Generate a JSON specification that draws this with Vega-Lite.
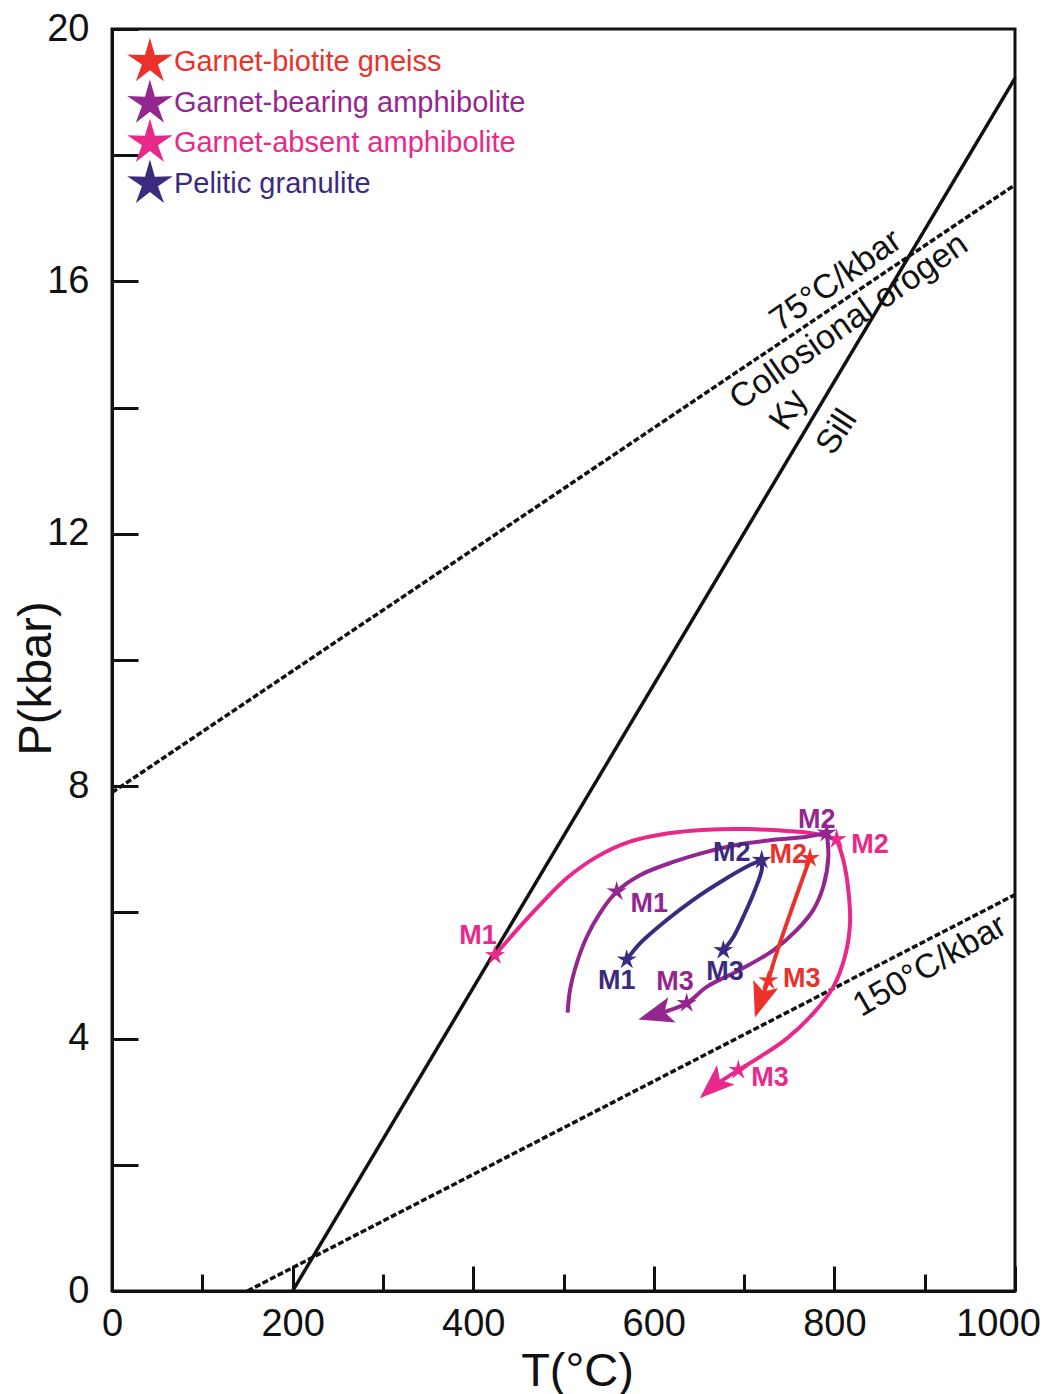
{
  "$schema": "https://vega.github.io/schema/vega-lite/v6.json",
  "width": 903,
  "height": 1262,
  "autosize": {"type": "none"},
  "padding": {"left": 112, "top": 29, "right": 33, "bottom": 103},
  "background": "white",
  "config": {
    "view": {"stroke": "#111", "strokeWidth": 3},
    "font": "Liberation Sans",
    "axis": {
      "grid": false, "domainColor": "#111", "domainWidth": 3, "tickColor": "#111", "tickWidth": 3,
      "labelColor": "#111", "titleColor": "#111", "labelFont": "Liberation Sans", "titleFont": "Liberation Sans",
      "titleFontWeight": "normal", "labelFlush": false, "labelOverlap": false
    }
  },
  "datasets": {
    "refLines": [
      {"line": "Ky-Sill", "T": 200, "P": 0}, {"line": "Ky-Sill", "T": 1000, "P": 19.22},
      {"line": "75", "T": 0, "P": 7.9}, {"line": "75", "T": 1000, "P": 17.53},
      {"line": "150", "T": 150, "P": 0}, {"line": "150", "T": 1000, "P": 6.28}
    ],
    "annotations": [
      {"text": "75°C/kbar", "T": 801.8, "P": 16.01},
      {"text": "Collosional orogen", "T": 816.2, "P": 15.36},
      {"text": "Ky", "T": 749.7, "P": 13.96},
      {"text": "Sill", "T": 802.9, "P": 13.61},
      {"text": "150°C/kbar", "T": 905.9, "P": 5.15}
    ],
    "paths": [
      {"sample": "Garnet-absent amphibolite", "leg": "M1-M2", "i": 1, "T": 424.1, "P": 5.32},
      {"sample": "Garnet-absent amphibolite", "leg": "M1-M2", "i": 2, "T": 448.2, "P": 5.72},
      {"sample": "Garnet-absent amphibolite", "leg": "M1-M2", "i": 3, "T": 474.0, "P": 6.12},
      {"sample": "Garnet-absent amphibolite", "leg": "M1-M2", "i": 4, "T": 503.5, "P": 6.54},
      {"sample": "Garnet-absent amphibolite", "leg": "M1-M2", "i": 5, "T": 536.8, "P": 6.88},
      {"sample": "Garnet-absent amphibolite", "leg": "M1-M2", "i": 6, "T": 573.6, "P": 7.12},
      {"sample": "Garnet-absent amphibolite", "leg": "M1-M2", "i": 7, "T": 614.3, "P": 7.25},
      {"sample": "Garnet-absent amphibolite", "leg": "M1-M2", "i": 8, "T": 658.6, "P": 7.31},
      {"sample": "Garnet-absent amphibolite", "leg": "M1-M2", "i": 9, "T": 702.9, "P": 7.32},
      {"sample": "Garnet-absent amphibolite", "leg": "M1-M2", "i": 10, "T": 747.2, "P": 7.29},
      {"sample": "Garnet-absent amphibolite", "leg": "M1-M2", "i": 11, "T": 776.6, "P": 7.25},
      {"sample": "Garnet-absent amphibolite", "leg": "M1-M2", "i": 12, "T": 802.5, "P": 7.16},
      {"sample": "Garnet-absent amphibolite", "leg": "M2-M3", "i": 13, "T": 802.5, "P": 7.16},
      {"sample": "Garnet-absent amphibolite", "leg": "M2-M3", "i": 14, "T": 809.9, "P": 6.83},
      {"sample": "Garnet-absent amphibolite", "leg": "M2-M3", "i": 15, "T": 815.4, "P": 6.36},
      {"sample": "Garnet-absent amphibolite", "leg": "M2-M3", "i": 16, "T": 817.3, "P": 5.83},
      {"sample": "Garnet-absent amphibolite", "leg": "M2-M3", "i": 17, "T": 811.7, "P": 5.30},
      {"sample": "Garnet-absent amphibolite", "leg": "M2-M3", "i": 18, "T": 798.8, "P": 4.82},
      {"sample": "Garnet-absent amphibolite", "leg": "M2-M3", "i": 19, "T": 776.6, "P": 4.40},
      {"sample": "Garnet-absent amphibolite", "leg": "M2-M3", "i": 20, "T": 747.2, "P": 4.00},
      {"sample": "Garnet-absent amphibolite", "leg": "M2-M3", "i": 21, "T": 717.6, "P": 3.71},
      {"sample": "Garnet-absent amphibolite", "leg": "M2-M3", "i": 22, "T": 693.6, "P": 3.50},
      {"sample": "Garnet-absent amphibolite", "leg": "M2-M3", "i": 23, "T": 665.3, "P": 3.24},

      {"sample": "Garnet-bearing amphibolite", "leg": "M1-M2", "i": 1, "T": 504.6, "P": 4.41},
      {"sample": "Garnet-bearing amphibolite", "leg": "M1-M2", "i": 2, "T": 507.2, "P": 4.77},
      {"sample": "Garnet-bearing amphibolite", "leg": "M1-M2", "i": 3, "T": 514.6, "P": 5.19},
      {"sample": "Garnet-bearing amphibolite", "leg": "M1-M2", "i": 4, "T": 525.7, "P": 5.61},
      {"sample": "Garnet-bearing amphibolite", "leg": "M1-M2", "i": 5, "T": 540.4, "P": 5.99},
      {"sample": "Garnet-bearing amphibolite", "leg": "M1-M2", "i": 6, "T": 558.9, "P": 6.33},
      {"sample": "Garnet-bearing amphibolite", "leg": "M1-M2", "i": 7, "T": 584.7, "P": 6.59},
      {"sample": "Garnet-bearing amphibolite", "leg": "M1-M2", "i": 8, "T": 621.6, "P": 6.80},
      {"sample": "Garnet-bearing amphibolite", "leg": "M1-M2", "i": 9, "T": 658.6, "P": 6.96},
      {"sample": "Garnet-bearing amphibolite", "leg": "M1-M2", "i": 10, "T": 695.5, "P": 7.08},
      {"sample": "Garnet-bearing amphibolite", "leg": "M1-M2", "i": 11, "T": 732.3, "P": 7.15},
      {"sample": "Garnet-bearing amphibolite", "leg": "M1-M2", "i": 12, "T": 769.3, "P": 7.20},
      {"sample": "Garnet-bearing amphibolite", "leg": "M1-M2", "i": 13, "T": 791.4, "P": 7.26},
      {"sample": "Garnet-bearing amphibolite", "leg": "M2-M3", "i": 14, "T": 791.4, "P": 7.26},
      {"sample": "Garnet-bearing amphibolite", "leg": "M2-M3", "i": 15, "T": 793.3, "P": 6.88},
      {"sample": "Garnet-bearing amphibolite", "leg": "M2-M3", "i": 16, "T": 787.7, "P": 6.41},
      {"sample": "Garnet-bearing amphibolite", "leg": "M2-M3", "i": 17, "T": 776.6, "P": 6.04},
      {"sample": "Garnet-bearing amphibolite", "leg": "M2-M3", "i": 18, "T": 758.2, "P": 5.72},
      {"sample": "Garnet-bearing amphibolite", "leg": "M2-M3", "i": 19, "T": 732.3, "P": 5.40},
      {"sample": "Garnet-bearing amphibolite", "leg": "M2-M3", "i": 20, "T": 695.5, "P": 5.09},
      {"sample": "Garnet-bearing amphibolite", "leg": "M2-M3", "i": 21, "T": 658.6, "P": 4.82},
      {"sample": "Garnet-bearing amphibolite", "leg": "M2-M3", "i": 22, "T": 636.4, "P": 4.56},
      {"sample": "Garnet-bearing amphibolite", "leg": "M2-M3", "i": 23, "T": 601.5, "P": 4.38},

      {"sample": "Pelitic granulite", "leg": "M1-M2", "i": 1, "T": 570.0, "P": 5.25},
      {"sample": "Pelitic granulite", "leg": "M1-M2", "i": 2, "T": 584.7, "P": 5.51},
      {"sample": "Pelitic granulite", "leg": "M1-M2", "i": 3, "T": 614.3, "P": 5.88},
      {"sample": "Pelitic granulite", "leg": "M1-M2", "i": 4, "T": 643.7, "P": 6.20},
      {"sample": "Pelitic granulite", "leg": "M1-M2", "i": 5, "T": 677.0, "P": 6.51},
      {"sample": "Pelitic granulite", "leg": "M1-M2", "i": 6, "T": 706.5, "P": 6.75},
      {"sample": "Pelitic granulite", "leg": "M1-M2", "i": 7, "T": 719.5, "P": 6.83},
      {"sample": "Pelitic granulite", "leg": "M2-M3", "i": 8, "T": 719.5, "P": 6.83},
      {"sample": "Pelitic granulite", "leg": "M2-M3", "i": 9, "T": 719.5, "P": 6.67},
      {"sample": "Pelitic granulite", "leg": "M2-M3", "i": 10, "T": 712.1, "P": 6.36},
      {"sample": "Pelitic granulite", "leg": "M2-M3", "i": 11, "T": 701.0, "P": 5.99},
      {"sample": "Pelitic granulite", "leg": "M2-M3", "i": 12, "T": 688.1, "P": 5.61},
      {"sample": "Pelitic granulite", "leg": "M2-M3", "i": 13, "T": 677.0, "P": 5.40},

      {"sample": "Garnet-biotite gneiss", "leg": "M2-M3", "i": 1, "T": 773.0, "P": 6.86},
      {"sample": "Garnet-biotite gneiss", "leg": "M2-M3", "i": 2, "T": 756.4, "P": 6.20},
      {"sample": "Garnet-biotite gneiss", "leg": "M2-M3", "i": 3, "T": 743.4, "P": 5.67},
      {"sample": "Garnet-biotite gneiss", "leg": "M2-M3", "i": 4, "T": 732.3, "P": 5.19},
      {"sample": "Garnet-biotite gneiss", "leg": "M2-M3", "i": 5, "T": 726.8, "P": 4.92},
      {"sample": "Garnet-biotite gneiss", "leg": "M2-M3", "i": 6, "T": 718.0, "P": 4.60}
    ],
    "arrows": [
      {"sample": "Garnet-absent amphibolite", "T": 665.3, "P": 3.24},
      {"sample": "Garnet-bearing amphibolite", "T": 601.5, "P": 4.38},
      {"sample": "Garnet-biotite gneiss", "T": 718.0, "P": 4.60}
    ],
    "stages": [
      {"sample": "Garnet-absent amphibolite", "stage": "M1", "T": 424.1, "P": 5.32},
      {"sample": "Garnet-absent amphibolite", "stage": "M2", "T": 802.5, "P": 7.16},
      {"sample": "Garnet-absent amphibolite", "stage": "M3", "T": 693.6, "P": 3.50},
      {"sample": "Garnet-bearing amphibolite", "stage": "M1", "T": 558.9, "P": 6.33},
      {"sample": "Garnet-bearing amphibolite", "stage": "M2", "T": 791.4, "P": 7.26},
      {"sample": "Garnet-bearing amphibolite", "stage": "M3", "T": 636.4, "P": 4.56},
      {"sample": "Pelitic granulite", "stage": "M1", "T": 570.0, "P": 5.25},
      {"sample": "Pelitic granulite", "stage": "M2", "T": 719.5, "P": 6.83},
      {"sample": "Pelitic granulite", "stage": "M3", "T": 677.0, "P": 5.40},
      {"sample": "Garnet-biotite gneiss", "stage": "M2", "T": 773.0, "P": 6.86},
      {"sample": "Garnet-biotite gneiss", "stage": "M3", "T": 726.8, "P": 4.92}
    ],
    "stageLabels": [
      {"sample": "Garnet-absent amphibolite", "stage": "M1", "T": 405.3, "P": 5.63},
      {"sample": "Garnet-absent amphibolite", "stage": "M2", "T": 839.4, "P": 7.07},
      {"sample": "Garnet-absent amphibolite", "stage": "M3", "T": 728.7, "P": 3.37},
      {"sample": "Garnet-bearing amphibolite", "stage": "M1", "T": 595.0, "P": 6.14},
      {"sample": "Garnet-bearing amphibolite", "stage": "M2", "T": 780.4, "P": 7.46},
      {"sample": "Garnet-bearing amphibolite", "stage": "M3", "T": 623.5, "P": 4.89},
      {"sample": "Pelitic granulite", "stage": "M1", "T": 558.9, "P": 4.92},
      {"sample": "Pelitic granulite", "stage": "M2", "T": 686.2, "P": 6.94},
      {"sample": "Pelitic granulite", "stage": "M3", "T": 678.8, "P": 5.06},
      {"sample": "Garnet-biotite gneiss", "stage": "M2", "T": 748.9, "P": 6.91},
      {"sample": "Garnet-biotite gneiss", "stage": "M3", "T": 763.8, "P": 4.94}
    ],
    "legendRows": [
      {"sample": "Garnet-biotite gneiss", "T": 42, "P": 19.48},
      {"sample": "Garnet-bearing amphibolite", "T": 42, "P": 18.82},
      {"sample": "Garnet-absent amphibolite", "T": 42, "P": 18.2},
      {"sample": "Pelitic granulite", "T": 42, "P": 17.55}
    ]
  },
  "encoding": {
    "x": {
      "field": "T", "type": "quantitative",
      "scale": {"domain": [0, 1000], "nice": false, "zero": false},
      "axis": {
        "title": "T(°C)",
        "format": "d",
        "values": [0, 100, 200, 300, 400, 500, 600, 700, 800, 900, 1000],
        "labelExpr": "datum.value % 200 === 0 ? datum.label : ''",
        "tickSize": {"condition": {"test": "datum.value % 200 === 0", "value": -25}, "value": -17},
        "labelPadding": 39,
        "labelOffset": {"condition": {"test": "datum.value === 1000", "value": -17}, "value": 0},
        "labelFontSize": 38,
        "titleFontSize": 47,
        "titleX": 465, "titleY": 94, "titleBaseline": "alphabetic", "titleAlign": "center"
      }
    },
    "y": {
      "field": "P", "type": "quantitative",
      "scale": {"domain": [0, 20], "nice": false, "zero": false},
      "axis": {
        "title": "P(kbar)",
        "format": "d",
        "values": [0, 2, 4, 6, 8, 10, 12, 14, 16, 18, 20],
        "labelExpr": "datum.value % 4 === 0 ? datum.label : ''",
        "tickSize": -26,
        "labelPadding": 49,
        "labelFontSize": 38,
        "titleFontSize": 47,
        "titleX": -62, "titleY": 649, "titleBaseline": "alphabetic", "titleAlign": "center", "titleAngle": -90
      }
    }
  },
  "layer": [
    {
      "data": {"name": "refLines"},
      "mark": {"type": "line", "color": "#111", "strokeWidth": 3.5},
      "encoding": {
        "detail": {"field": "line"},
        "strokeDash": {"field": "line", "type": "nominal", "scale": {"domain": ["Ky-Sill", "75", "150"], "range": [[1, 0], [6, 2.5], [6, 2.5]]}, "legend": null}
      }
    },
    {
      "data": {"name": "annotations"},
      "transform": [{"filter": {"field": "text", "oneOf": ["75°C/kbar", "Collosional orogen"]}}],
      "mark": {"type": "text", "angle": -35, "fontSize": 34, "color": "#111", "align": "center", "baseline": "middle"},
      "encoding": {"text": {"field": "text"}}
    },
    {
      "data": {"name": "annotations"},
      "transform": [{"filter": {"field": "text", "oneOf": ["Ky", "Sill"]}}],
      "mark": {"type": "text", "angle": -57, "fontSize": 34, "color": "#111", "align": "center", "baseline": "middle"},
      "encoding": {"text": {"field": "text"}}
    },
    {
      "data": {"name": "annotations"},
      "transform": [{"filter": {"field": "text", "oneOf": ["150°C/kbar"]}}],
      "mark": {"type": "text", "angle": -30, "fontSize": 34, "color": "#111", "align": "center", "baseline": "middle"},
      "encoding": {"text": {"field": "text"}}
    },
    {
      "data": {"name": "paths"},
      "mark": {"type": "line", "strokeWidth": 4, "interpolate": "catmull-rom"},
      "encoding": {
        "color": {"field": "sample", "type": "nominal", "scale": {"domain": ["Garnet-biotite gneiss", "Garnet-bearing amphibolite", "Garnet-absent amphibolite", "Pelitic granulite"], "range": ["#e8322b", "#93278f", "#e8288b", "#3b2a80"]}, "legend": null},
        "detail": {"field": "leg"},
        "order": {"field": "i", "type": "quantitative"}
      }
    },
    {
      "data": {"name": "arrows"},
      "transform": [{"filter": "datum.sample === 'Garnet-absent amphibolite'"}],
      "mark": {"type": "point", "shape": "M0,-1L0.75,1L0,0.55L-0.75,1Z", "size": 1225, "filled": true, "opacity": 1, "strokeWidth": 0, "angle": 228},
      "encoding": {"color": {"field": "sample", "type": "nominal", "scale": {"domain": ["Garnet-biotite gneiss", "Garnet-bearing amphibolite", "Garnet-absent amphibolite", "Pelitic granulite"], "range": ["#e8322b", "#93278f", "#e8288b", "#3b2a80"]}, "legend": null}}
    },
    {
      "data": {"name": "arrows"},
      "transform": [{"filter": "datum.sample === 'Garnet-bearing amphibolite'"}],
      "mark": {"type": "point", "shape": "M0,-1L0.75,1L0,0.55L-0.75,1Z", "size": 1225, "filled": true, "opacity": 1, "strokeWidth": 0, "angle": 254},
      "encoding": {"color": {"field": "sample", "type": "nominal", "scale": {"domain": ["Garnet-biotite gneiss", "Garnet-bearing amphibolite", "Garnet-absent amphibolite", "Pelitic granulite"], "range": ["#e8322b", "#93278f", "#e8288b", "#3b2a80"]}, "legend": null}}
    },
    {
      "data": {"name": "arrows"},
      "transform": [{"filter": "datum.sample === 'Garnet-biotite gneiss'"}],
      "mark": {"type": "point", "shape": "M0,-1L0.75,1L0,0.55L-0.75,1Z", "size": 1225, "filled": true, "opacity": 1, "strokeWidth": 0, "angle": 198},
      "encoding": {"color": {"field": "sample", "type": "nominal", "scale": {"domain": ["Garnet-biotite gneiss", "Garnet-bearing amphibolite", "Garnet-absent amphibolite", "Pelitic granulite"], "range": ["#e8322b", "#93278f", "#e8288b", "#3b2a80"]}, "legend": null}}
    },
    {
      "data": {"name": "stages"},
      "mark": {"type": "point", "shape": "M0,-1L0.206,-0.283L0.951,-0.309L0.333,0.108L0.588,0.809L0,0.35L-0.588,0.809L-0.333,0.108L-0.951,-0.309L-0.206,-0.283Z", "size": 450, "filled": true, "opacity": 1, "strokeWidth": 0},
      "encoding": {"color": {"field": "sample", "type": "nominal", "scale": {"domain": ["Garnet-biotite gneiss", "Garnet-bearing amphibolite", "Garnet-absent amphibolite", "Pelitic granulite"], "range": ["#e8322b", "#93278f", "#e8288b", "#3b2a80"]}, "legend": null}}
    },
    {
      "data": {"name": "stageLabels"},
      "mark": {"type": "text", "fontSize": 27, "fontWeight": "bold", "align": "center", "baseline": "middle"},
      "encoding": {
        "text": {"field": "stage"},
        "color": {"field": "sample", "type": "nominal", "scale": {"domain": ["Garnet-biotite gneiss", "Garnet-bearing amphibolite", "Garnet-absent amphibolite", "Pelitic granulite"], "range": ["#e8322b", "#93278f", "#e8288b", "#3b2a80"]}, "legend": null}
      }
    },
    {
      "data": {"name": "legendRows"},
      "mark": {"type": "point", "shape": "M0,-1L0.206,-0.283L0.951,-0.309L0.333,0.108L0.588,0.809L0,0.35L-0.588,0.809L-0.333,0.108L-0.951,-0.309L-0.206,-0.283Z", "size": 2300, "filled": true, "opacity": 1, "strokeWidth": 0},
      "encoding": {"color": {"field": "sample", "type": "nominal", "scale": {"domain": ["Garnet-biotite gneiss", "Garnet-bearing amphibolite", "Garnet-absent amphibolite", "Pelitic granulite"], "range": ["#e8322b", "#93278f", "#e8288b", "#3b2a80"]}, "legend": null}}
    },
    {
      "data": {"name": "legendRows"},
      "mark": {"type": "text", "fontSize": 29, "align": "left", "baseline": "middle", "dx": 24},
      "encoding": {
        "text": {"field": "sample"},
        "color": {"field": "sample", "type": "nominal", "scale": {"domain": ["Garnet-biotite gneiss", "Garnet-bearing amphibolite", "Garnet-absent amphibolite", "Pelitic granulite"], "range": ["#e8322b", "#93278f", "#e8288b", "#3b2a80"]}, "legend": null}
      }
    }
  ]
}
